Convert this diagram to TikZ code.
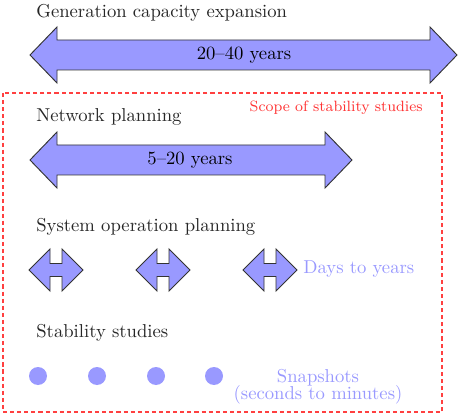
\documentclass[tikz,border=0pt]{standalone}

\tikzset{
	span/.style={fill=blue!40, draw=black!80, line width=0.5pt, line join=miter},
	heading/.style={anchor=base west, inner xsep=0pt, text=black!85},
	tag/.style={text=blue!40}
}

\begin{document}
\begin{tikzpicture}[x=0.536pt, y=-0.536pt]
	\useasboundingbox (0, 0) rectangle (461, 414);

	% scope of the stability studies
	\draw[red!75, line width=1pt, dash pattern=on 2.2pt off 1.6pt] (3, 93) rectangle (442, 412);
	\node[anchor=base east, inner xsep=0pt, text=red!80, font=\footnotesize] (scope) at (423, 112) {Scope of stability studies};

	% generation capacity expansion
	\node[heading] (gen) at (36, 18) {Generation capacity expansion};
	\filldraw[span] (30, 55) -- ++(27, -28) -- ++(0, 13) -- ++(373, 0) -- ++(0, -13) -- ++(27, 28)
		-- ++(-27, 28) -- ++(0, -13) -- ++(-373, 0) -- ++(0, 13) -- cycle;
	\node (genspan) at (244, 55) {20--40 years};

	% network planning
	\node[heading] (net) at (36, 122) {Network planning};
	\filldraw[span] (30, 160) -- ++(27, -28) -- ++(0, 13) -- ++(268, 0) -- ++(0, -13) -- ++(27, 28)
		-- ++(-27, 28) -- ++(0, -13) -- ++(-268, 0) -- ++(0, 13) -- cycle;
	\node (netspan) at (190, 160) {5--20 years};

	% system operation planning
	\node[heading] (ops) at (36, 232) {System operation planning};
	\foreach \x in {29, 136, 243}
		\filldraw[span] (\x, 270) -- ++(21, -21) -- ++(0, 14.5) -- ++(12, 0) -- ++(0, -14.5) -- ++(21, 21)
			-- ++(-21, 21) -- ++(0, -14.5) -- ++(-12, 0) -- ++(0, 14.5) -- cycle;
	\node[tag, anchor=west, inner xsep=0pt] (opsspan) at (303, 269) {Days to years};

	% stability studies
	\node[heading] (stab) at (36, 338) {Stability studies};
	\foreach \x in {38, 97, 156, 214}
		\fill[blue!40] (\x, 376) circle (9);
	\node[tag, align=center] (snap) at (318, 387) {Snapshots\\[-3pt](seconds to minutes)};
\end{tikzpicture}
\end{document}
